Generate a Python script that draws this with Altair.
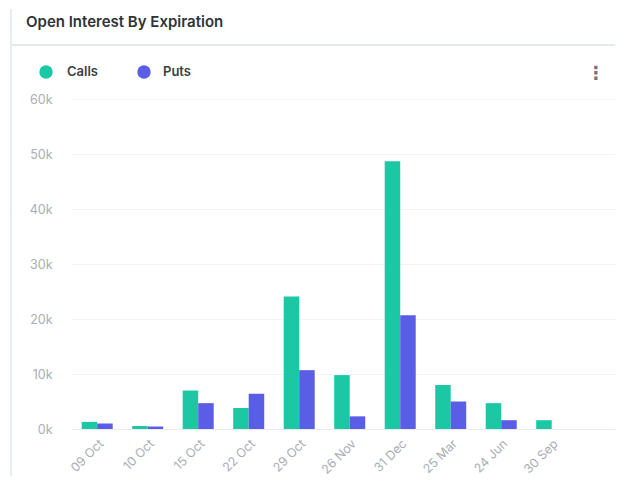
import altair as alt
import pandas as pd

dates = ["09 Oct", "10 Oct", "15 Oct", "22 Oct", "29 Oct", "26 Nov", "31 Dec", "25 Mar", "24 Jun", "30 Sep"]
calls = [1300, 550, 7000, 3800, 24100, 9800, 48700, 8000, 4700, 1600]
puts = [1000, 450, 4700, 6400, 10700, 2300, 20700, 5000, 1600, 0]
series = ["Calls", "Puts"]
colors = ["#1cc7a4", "#5a5de6"]
y_ticks = [0, 10000, 20000, 30000, 40000, 50000, 60000]

rows = []
for d, c, p in zip(dates, calls, puts):
    rows.append({"date": d, "type": "Calls", "value": c})
    rows.append({"date": d, "type": "Puts", "value": p})
df = pd.DataFrame(rows)

W, H = 544, 330
FONT = "Inter"

bars = alt.Chart(df).mark_bar().encode(
    x=alt.X("date:N", sort=dates,
            scale=alt.Scale(paddingInner=0.386, paddingOuter=0.579, align=0.183),
            axis=alt.Axis(title=None, labelAngle=-45, ticks=False, domainColor="#e8ecf1",
                          labelColor="#a9aeb5", labelFontSize=12.5, labelFont=FONT,
                          labelPadding=8, grid=False)),
    xOffset=alt.XOffset("type:N", sort=series, scale=alt.Scale(paddingInner=0, paddingOuter=0)),
    y=alt.Y("value:Q", scale=alt.Scale(domain=[0, 60000]),
            axis=alt.Axis(title=None, values=y_ticks, format="~s", ticks=False, domain=False,
                          labelColor="#a9aeb5", labelFontSize=12.5, labelFont=FONT,
                          labelPadding=19, gridColor="#f1f3f6")),
    color=alt.Color("type:N", scale=alt.Scale(domain=series, range=colors), legend=None),
)

one = alt.Data(values=[{}])

left_border = alt.Chart(one).mark_rule(color="#e0e5eb", strokeWidth=1.5).encode(
    x=alt.value(-60), y=alt.value(-90), y2=alt.value(H + 47))
header_line = alt.Chart(one).mark_rule(color="#e6ebf1", strokeWidth=2).encode(
    x=alt.value(-60), x2=alt.value(W), y=alt.value(-54))
title = alt.Chart(one).mark_text(align="left", baseline="middle", font=FONT, fontSize=15,
                                 fontWeight=600, color="#2f3337").encode(
    x=alt.value(-45), y=alt.value(-77), text=alt.value("Open Interest By Expiration"))

leg_calls_dot = alt.Chart(one).mark_circle(size=180, opacity=1, color=colors[0]).encode(
    x=alt.value(-25), y=alt.value(-27))
leg_puts_dot = alt.Chart(one).mark_circle(size=180, opacity=1, color=colors[1]).encode(
    x=alt.value(73), y=alt.value(-27))
leg_calls_txt = alt.Chart(one).mark_text(align="left", baseline="middle", font=FONT, fontSize=13,
                                         fontWeight=600, color="#3a3f44").encode(
    x=alt.value(-4), y=alt.value(-27), text=alt.value("Calls"))
leg_puts_txt = alt.Chart(one).mark_text(align="left", baseline="middle", font=FONT, fontSize=13,
                                        fontWeight=600, color="#3a3f44").encode(
    x=alt.value(92), y=alt.value(-27), text=alt.value("Puts"))
menu = alt.Chart(one).mark_text(align="center", baseline="middle", font="DejaVu Sans", fontSize=18,
                                fontWeight="bold", color="#6b7580").encode(
    x=alt.value(525), y=alt.value(-25), text=alt.value("⋮"))

chart = alt.layer(
    bars, left_border, header_line, title, leg_calls_dot, leg_puts_dot,
    leg_calls_txt, leg_puts_txt, menu
).properties(
    width=W, height=H,
    padding={"left": 2, "top": 0, "right": 0, "bottom": 0},
).configure_view(stroke=None)

chart.save("out.html", embed_options={"renderer": "svg", "actions": False})
